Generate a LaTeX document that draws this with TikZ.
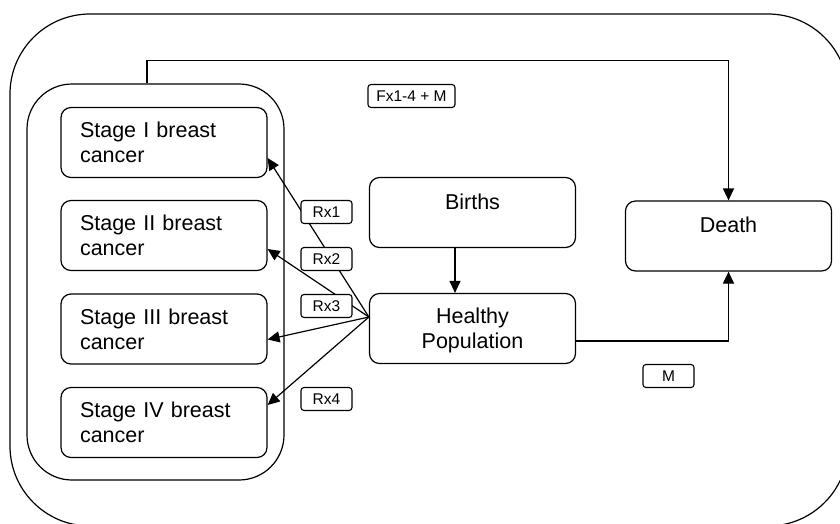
\documentclass[tikz,border=0pt]{standalone}
\usepackage{fontspec}
\setmainfont{Liberation Sans}
\usetikzlibrary{arrows.meta}
\begin{document}
\begin{tikzpicture}[x=1pt,y=-1pt,
  every node/.style={font=\fontsize{21.5}{25}\selectfont},
  box/.style={draw, line width=1.2pt, rounded corners=10pt, minimum width=206pt, minimum height=70pt, inner sep=0pt},
  stagebox/.style={box, text width=168pt, inner xsep=19pt, align=left},
  toptext/.style={text height=15pt, text depth=22pt},
  tag/.style={draw, fill=white, line width=1.1pt, rounded corners=3pt, minimum height=23pt, inner sep=0pt, font=\fontsize{15.5}{18}\selectfont},
  link/.style={line width=1.2pt, -{Triangle[length=12pt,width=11pt]}},
]
\useasboundingbox (0,0) rectangle (840,523);

% outer frame, partly cut by the page edge
\begin{scope}
  \clip (0,0) rectangle (840,523);
  \draw[line width=1.2pt, rounded corners=80pt] (10,14) rectangle (848,526);
\end{scope}

% group of cancer stages
\node[draw, line width=1.2pt, rounded corners=45pt, minimum width=257pt, minimum height=396pt] (grp) at (155.5,282) {};

\node[stagebox] (s1) at (164,142.5) {Stage I breast\\cancer};
\node[stagebox] (s2) at (164,235.5) {Stage II breast\\cancer};
\node[stagebox] (s3) at (164,329) {Stage III breast\\cancer};
\node[stagebox] (s4) at (164,422.5) {Stage IV breast\\cancer};

\node[box, toptext] (births) at (472.5,212.5) {Births};
\node[box, align=center, text depth=0pt] (hp) at (472.5,328.5) {Healthy\\Population};
\node[box, toptext] (death) at (728.5,236) {Death};

% flows
\draw[link] ([xshift=-8.5pt]grp.north) -- ++(0,-23) -| (death.north);
\draw[link] ([yshift=-12.5pt]hp.east) -| (death.south);
\draw[link] ([xshift=-17.5pt]births.south) -- ([xshift=-17.5pt]hp.north);

\draw[link] ([yshift=11.5pt]hp.west) -- ([yshift=-15.5pt]s1.east);
\draw[link] ([yshift=11.5pt]hp.west) -- ([yshift=-13.5pt]s2.east);
\draw[link] ([yshift=11.5pt]hp.west) -- ([yshift=-10.5pt]s3.east);
\draw[link] ([yshift=11.5pt]hp.west) -- ([yshift=17.5pt]s4.east);

% rate labels
\node[tag, minimum width=51pt] (rx1) at (326.5,212) {Rx1};
\node[tag, minimum width=51pt] (rx2) at (326.5,259) {Rx2};
\node[tag, minimum width=51pt] (rx3) at (326.5,306) {Rx3};
\node[tag, minimum width=51pt] (rx4) at (326.5,399) {Rx4};
\node[tag, minimum width=87pt] (fx) at (411.5,96) {Fx1-4 + M};
\node[tag, minimum width=51pt] (m) at (668.5,376) {M};
\end{tikzpicture}
\end{document}
